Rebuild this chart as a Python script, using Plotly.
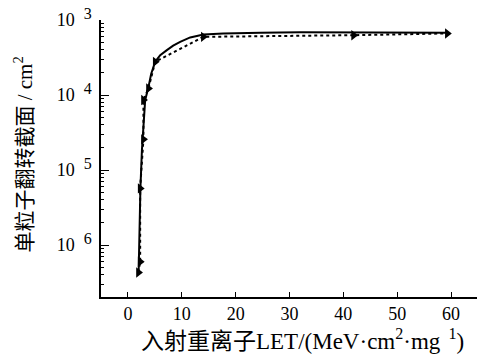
import plotly.graph_objects as go

# Measured data points (dotted line with markers)
let_data = [1.95, 2.27, 2.27, 2.88, 2.88, 3.81, 5.06, 14.0, 41.9, 59.3]
sigma_data = [4.3e-7, 6.0e-7, 5.7e-6, 2.57e-5, 8.6e-5, 1.23e-4, 2.78e-4, 5.99e-4, 6.3e-4, 6.65e-4]

# Fitted curve (solid line)
let_fit = [1.99, 2.14, 2.32, 2.60, 2.88, 3.20, 3.81, 4.31, 5.06, 5.99, 7.23, 8.40, 9.70, 11.56,
           14.03, 17.7, 24.6, 32.0, 59.3]
sigma_fit = [4.37e-7, 1.58e-6, 5.75e-6, 1.85e-5, 4.64e-5, 8.57e-5, 1.28e-4, 1.91e-4, 2.78e-4,
             3.41e-4, 3.98e-4, 4.57e-4, 5.14e-4, 5.88e-4, 6.44e-4, 6.65e-4, 6.81e-4, 6.88e-4, 6.81e-4]

y_tickvals = [1e-6, 1e-5, 1e-4, 1e-3]
y_exponents = ["6", "5", "4", "3"]
x_tickvals = [0, 10, 20, 30, 40, 50, 60]

x_title = "入射重离子LET/(MeV·cm<sup>2</sup>·mg<sup>\u00a0\u00a01</sup>)"
y_title = "单粒子翻转截面 / cm<sup>2</sup>"

font_fam = "Liberation Serif, Times New Roman, Noto Sans CJK SC, serif"

y_ticktext = ["10\u00a0\u00a0<sup><span style='font-size:16px'>" + e + "</span></sup>" for e in y_exponents]
minor_vals = [m * 10 ** d for d in range(-7, -3) for m in range(2, 10)]

fig = go.Figure()
fig.add_trace(go.Scatter(x=let_fit, y=sigma_fit, mode="lines",
                         line=dict(color="black", width=2),
                         showlegend=False, hoverinfo="skip"))
fig.add_trace(go.Scatter(x=let_data, y=sigma_data, mode="lines+markers",
                         line=dict(color="black", width=2, dash="dot"),
                         marker=dict(symbol="triangle-right", size=9, color="black"),
                         showlegend=False))

fig.update_layout(
    width=485, height=359,
    margin=dict(l=93, r=15, t=12, b=70),
    paper_bgcolor="white", plot_bgcolor="white",
    font=dict(family=font_fam, size=18, color="black"),
    xaxis=dict(range=[-5, 65], tickvals=x_tickvals, ticks="inside", ticklen=5,
               tickcolor="black", tickwidth=1.2, automargin=False,
               showline=True, linecolor="black", linewidth=1.5, mirror=False,
               showgrid=False, zeroline=False, tickfont=dict(size=18)),
    yaxis=dict(type="log", range=[-6.693, -2.998], tickvals=y_tickvals, ticktext=y_ticktext,
               ticks="inside", ticklen=8, tickcolor="black", tickwidth=1.2, automargin=False,
               ticklabelstandoff=4, ticklabeloverflow="allow",
               minor=dict(tickvals=minor_vals, ticks="inside", ticklen=3, tickcolor="black", tickwidth=1),
               showline=True, linecolor="black", linewidth=1.5, mirror=False,
               showgrid=False, zeroline=False, tickfont=dict(size=18)),
    annotations=[
        dict(text=x_title, xref="paper", yref="paper", x=0.534, y=0, xanchor="center",
             yanchor="middle", yshift=-42, showarrow=False, font=dict(size=23)),
        dict(text=y_title, xref="paper", yref="paper", x=0, y=0.514, xanchor="center",
             yanchor="middle", xshift=-77, textangle=-90, showarrow=False, font=dict(size=21)),
    ],
)

fig.write_html("out.html")
